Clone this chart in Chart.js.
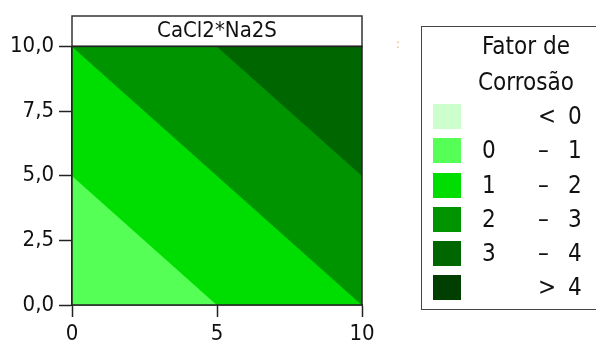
<!DOCTYPE html>
<html>
<head>
<meta charset="utf-8">
<script src="https://cdn.jsdelivr.net/npm/chart.js@4/dist/chart.umd.min.js"></script>
<style>
  html, body { margin: 0; padding: 0; background: #fff; }
  #wrap { position: relative; width: 596px; height: 341px; overflow: hidden;
          font-family: "DejaVu Sans Condensed", "DejaVu Sans", sans-serif; color: #111; }
  #c { position: absolute; left: 0; top: 0; }
  #legend { position: absolute; left: 421px; top: 26px; width: 190px; height: 284px;
            border: 1.5px solid #444; box-sizing: border-box; background: #fff; }
  .lt { position: absolute; font-size: 24px; line-height: 24px; white-space: nowrap; }
  .sw { position: absolute; width: 28px; height: 25px; }
  #dots { position: absolute; left: 396px; top: 36px; font-size: 13px; color: #e8b070; }
</style>
</head>
<body>
<div id="wrap">
  <canvas id="c" width="596" height="341"></canvas>
  <div id="dots">:</div>
  <div id="legend"></div>
</div>
<script>
// ---- data ----
const chartTitle = 'CaCl2*Na2S';
const legendTitle = ['Fator de', 'Corrosão'];
const legendLow = ['', '0', '1', '2', '3', ''];
const legendSep = ['<', '–', '–', '–', '–', '>'];
const legendHigh = ['0', '1', '2', '3', '4', '4'];
const levelColors = ['#ccffcc', '#55ff55', '#00dd00', '#009400', '#006600', '#003f00'];
const xTicks = [0, 5, 10];
const yTicks = [0, 2.5, 5, 7.5, 10];
// regions where fator >= level (polygon vertices in data units)
const regionGE0x = [0, 10, 10, 0];
const regionGE0y = [0, 0, 10, 10];
const regionGE1x = [5, 10, 10, 0, 0];
const regionGE1y = [0, 0, 10, 10, 5];
const regionGE2x = [10, 10, 0];
const regionGE2y = [0, 10, 10];
const regionGE3x = [10, 10, 5];
const regionGE3y = [5, 10, 10];

function pts(xs, ys) { return xs.map((x, i) => ({x: x, y: ys[i]})); }
const regions = [
  {p: pts(regionGE0x, regionGE0y), c: levelColors[1]},
  {p: pts(regionGE1x, regionGE1y), c: levelColors[2]},
  {p: pts(regionGE2x, regionGE2y), c: levelColors[3]},
  {p: pts(regionGE3x, regionGE3y), c: levelColors[4]}
];
const datasets = regions.map((r, i) => ({
  data: r.p.concat([r.p[0]]),
  showLine: true,
  fill: 'shape',
  backgroundColor: r.c,
  borderColor: r.c,
  borderWidth: 0.5,
  pointRadius: 0,
  tension: 0,
  order: regions.length - i
}));

const fontFam = '"DejaVu Sans Condensed", "DejaVu Sans", sans-serif';
const fmt = v => Number(v).toFixed(1).replace('.', ',');

const framePlugin = {
  id: 'frame',
  beforeDraw(chart) {
    const {ctx, chartArea: a} = chart;
    ctx.save();
    ctx.fillStyle = '#fff';
    ctx.fillRect(a.left, 16, a.right - a.left, a.top - 16);
    ctx.strokeStyle = '#333';
    ctx.lineWidth = 1.5;
    ctx.strokeRect(a.left, 16, a.right - a.left, a.top - 16);
    ctx.restore();
  },
  afterDatasetsDraw(chart) {
    const {ctx, chartArea: a} = chart;
    ctx.save();
    ctx.strokeStyle = '#222';
    ctx.lineWidth = 1.5;
    ctx.strokeRect(a.left, a.top, a.right - a.left, a.bottom - a.top);
    ctx.restore();
  }
};

new Chart(document.getElementById('c'), {
  type: 'scatter',
  data: { datasets: datasets },
  options: {
    responsive: false,
    animation: false,
    layout: { padding: { left: 0, right: 234, top: 0, bottom: 0 } },
    plugins: {
      legend: { display: false },
      tooltip: { enabled: false },
      title: {
        display: true, text: chartTitle, fullSize: false, color: '#111',
        font: { family: fontFam, size: 22, weight: 'normal', lineHeight: 1.2 },
        padding: { top: 18, bottom: 2 }
      }
    },
    scales: {
      x: {
        type: 'linear', min: 0, max: 10,
        afterBuildTicks: s => { s.ticks = xTicks.map(v => ({value: v})); },
        afterFit: s => { s.height = 36; },
        ticks: { color: '#111', font: { family: fontFam, size: 22 }, padding: 4, maxRotation: 0,
                 callback: v => String(v) },
        grid: { drawOnChartArea: false, tickLength: 12, color: '#222', tickWidth: 1.5 },
        border: { display: true, color: '#222', width: 1.5 }
      },
      y: {
        type: 'linear', min: 0, max: 10,
        afterBuildTicks: s => { s.ticks = yTicks.map(v => ({value: v})); },
        afterFit: s => { s.width = 72; },
        ticks: { color: '#111', font: { family: fontFam, size: 22 }, padding: 5,
                 callback: v => fmt(v) },
        grid: { drawOnChartArea: false, tickLength: 13, color: '#222', tickWidth: 1.5 },
        border: { display: true, color: '#222', width: 1.5 }
      }
    }
  },
  plugins: [framePlugin]
});

// ---- legend (HTML text) ----
const lg = document.getElementById('legend');
const L = 421, T = 26;
function addText(txt, x, y, align) {
  const d = document.createElement('div');
  d.className = 'lt';
  d.textContent = txt;
  if (align === 'center') { d.style.left = (x - L - 100) + 'px'; d.style.width = '200px'; d.style.textAlign = 'center'; }
  else d.style.left = (x - L) + 'px';
  d.style.top = (y - T - 12) + 'px';
  lg.appendChild(d);
}
addText(legendTitle[0], 525, 45, 'center');
addText(legendTitle[1], 525, 81, 'center');
const rowTop = [103, 137, 172, 206, 240, 274];
levelColors.forEach((c, i) => {
  const s = document.createElement('div');
  s.className = 'sw';
  s.style.left = (432 - L) + 'px';
  s.style.top = (rowTop[i] - T) + 'px';
  s.style.background = c;
  lg.appendChild(s);
  const cy = rowTop[i] + 12;
  if (legendLow[i]) addText(legendLow[i], 481, cy);
  addText(legendSep[i], 537, cy);
  addText(legendHigh[i], 567, cy);
});
</script>
</body>
</html>
